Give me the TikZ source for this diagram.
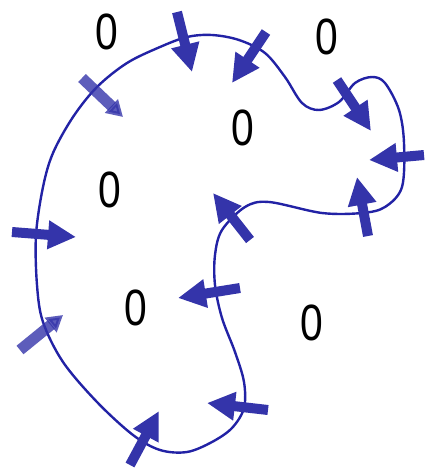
\documentclass[tikz,border=0pt]{standalone}
\usepackage{fontspec}
\setmainfont{Liberation Sans}
\usetikzlibrary{arrows.meta}
\definecolor{curveblue}{RGB}{34,34,165}
\definecolor{arrowblue}{RGB}{52,52,170}
\tikzset{
  fluxarrow/.style={draw=arrowblue, line width=10pt, -{Triangle[width=27pt,length=28pt]}},
  blurarrow/.style={draw=arrowblue, opacity=0.8, line width=11pt, -{Triangle[width=18pt,length=16pt]}},
  boundary/.style={draw=curveblue, line width=2.4pt},
  zero/.style={font=\fontsize{51}{55}\selectfont, text=black, inner sep=0pt, xscale=0.8}
}
\begin{document}
\begin{tikzpicture}[x=1pt,y=-1pt]
\useasboundingbox (0,0) rectangle (424,469);
\draw[boundary] plot[smooth cycle, tension=0.55] coordinates {
 (212,35) (239,40) (265,53) (285,77) (302,103) (319,110) (339,102) (355,83)
 (372,77) (385,83) (399,110) (404,143) (402,187) (385,207) (362,213) (322,213)
 (269,202) (245,207) (222,230) (215,255) (215,285) (222,318) (235,352) (244,382)
 (244,408) (232,428) (212,442) (187,452) (160,450) (133,435) (97,402) (63,362)
 (43,322) (37,285) (36,235) (43,187) (53,153) (73,117) (97,87) (127,63)
 (160,47) (187,37)};
\node[zero] (z1) at (107,32) {0};
\node[zero] (z2) at (327,37) {0};
\node[zero] (z3) at (243,128) {0};
\node[zero] (z4) at (110,190) {0};
\node[zero] (z5) at (136,308) {0};
\node[zero] (z6) at (312,323) {0};
\draw[fluxarrow] (177,12) -- (192,72);
\draw[fluxarrow] (266,32) -- (232,83);
\draw[fluxarrow] (337,80) -- (371,131);
\draw[fluxarrow] (424,155) -- (369,160);
\draw[fluxarrow] (368,236) -- (357,177);
\draw[fluxarrow] (250,240) -- (213,193);
\draw[fluxarrow] (240,288) -- (178,298);
\draw[fluxarrow] (268,410) -- (207,403);
\draw[fluxarrow] (130,465) -- (159,411);
\draw[fluxarrow] (12,232) -- (76,237);
\draw[blurarrow] (20,350) -- (63,315);
\draw[blurarrow] (82,78) -- (123,117);
\end{tikzpicture}
\end{document}
